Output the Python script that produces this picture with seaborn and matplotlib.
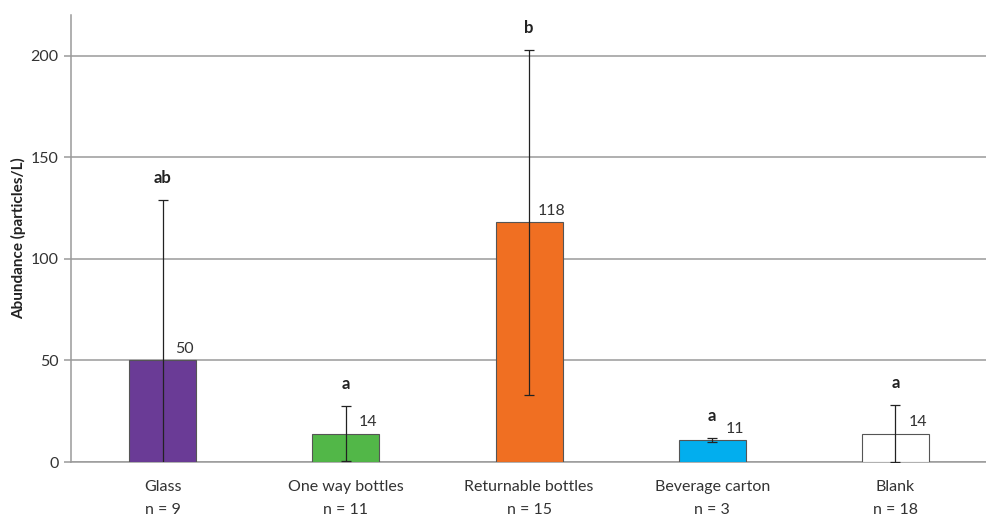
import matplotlib
matplotlib.use("Agg")
import matplotlib.pyplot as plt
import seaborn as sns
import pandas as pd
import numpy as np

# Microplastic abundance per beverage packaging type
categories = ["Glass", "One way bottles", "Returnable bottles", "Beverage carton", "Blank"]
sample_n = [9, 11, 15, 3, 18]
means = [50, 14, 118, 11, 14]
sd = [79, 13.5, 85, 1, 14]
letters = ["ab", "a", "b", "a", "a"]
colors = ["#6a3b96", "#52b748", "#f06f22", "#02aeee", "#ffffff"]

df = pd.DataFrame({"category": categories, "mean": means})

sns.set_theme(style="white")
plt.rcParams["font.family"] = ["Lato", "DejaVu Sans"]

fig = plt.figure(figsize=(9.87, 5.18), dpi=100)
ax = fig.add_axes([0.072, 0.108, 0.928, 0.863])

sns.barplot(data=df, x="category", y="mean", hue="category",
            palette=colors, saturation=1, legend=False, errorbar=None, width=0.366,
            edgecolor="#555555", linewidth=0.8, ax=ax, zorder=3)

x = np.arange(len(categories))
ax.errorbar(x, means, yerr=sd, fmt="none", ecolor="#222222",
            elinewidth=0.9, capsize=3.5, capthick=0.9, zorder=4)

ax.set_ylim(0, 220)
ax.set_xlim(-0.5, len(categories) - 0.5)
ax.set_yticks([0, 50, 100, 150, 200])
ax.yaxis.grid(True, color="#9a9a9a", linewidth=1.1, zorder=0)
ax.set_axisbelow(True)

for s in ["top", "right"]:
    ax.spines[s].set_visible(False)
ax.spines["left"].set_color("#9a9a9a")
ax.spines["left"].set_linewidth(1.1)
ax.spines["bottom"].set_color("#9a9a9a")
ax.spines["bottom"].set_linewidth(1.1)

ax.tick_params(axis="y", which="major", direction="out", length=5, width=1.1,
               color="#9a9a9a", labelsize=11.5, labelcolor="#333333", left=True, pad=4)
ax.tick_params(axis="x", length=0, labelcolor="#333333", pad=13)

ax.set_xticks(x)
ax.set_xticklabels([f"{c}\nn = {n}" for c, n in zip(categories, sample_n)],
                   linespacing=1.85)
for lbl in ax.get_xticklabels():
    lbl.set_fontsize(11.5)
ax.set_xlabel("")
ax.set_ylabel("Abundance (particles/L)", fontsize=11, fontweight="bold",
              color="#222222", labelpad=3)

for xi, m, s, let in zip(x, means, sd, letters):
    ax.annotate(f"{m}", (xi, m), xytext=(16, 3), textcoords="offset points",
                ha="center", va="bottom", fontsize=11.5, color="#333333", zorder=5)
    ax.annotate(let, (xi, m + s), xytext=(0, 10), textcoords="offset points",
                ha="center", va="bottom", fontsize=12, fontweight="bold",
                color="#222222", zorder=5)

fig.savefig("out.png", dpi=100, facecolor="white")
